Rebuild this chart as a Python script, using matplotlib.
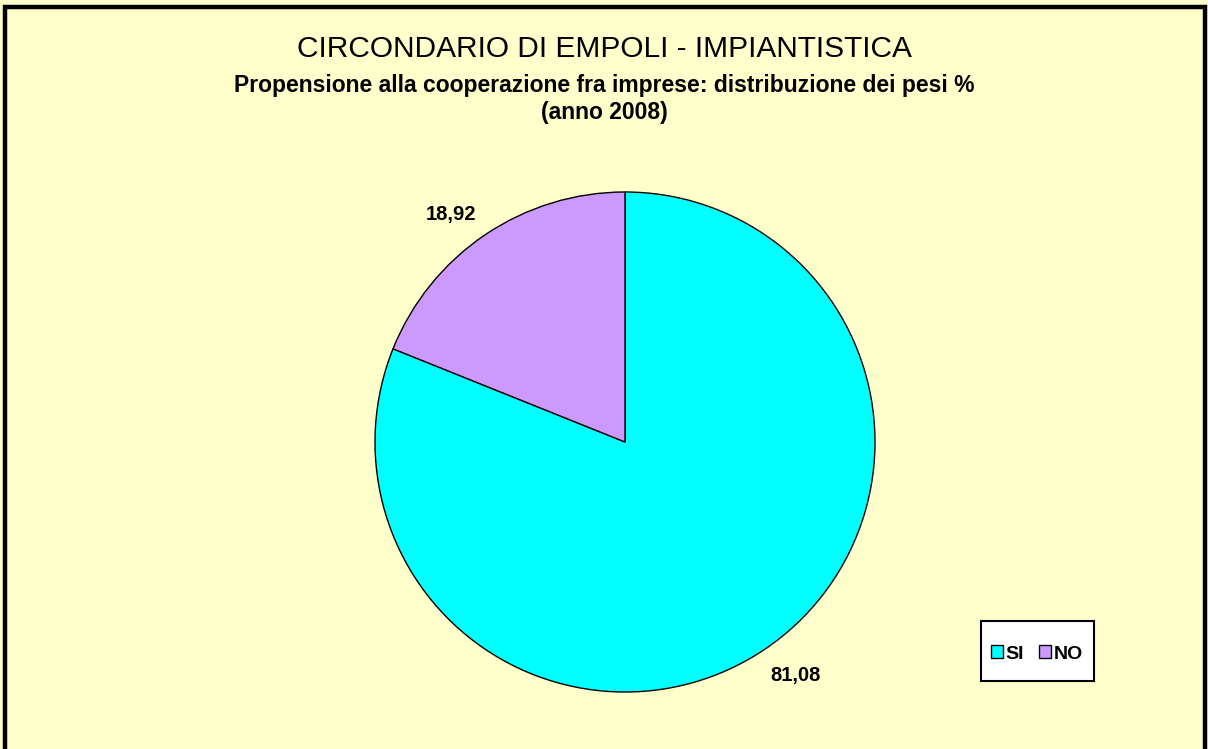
import numpy as np
import matplotlib
matplotlib.use("Agg")
import matplotlib.pyplot as plt
from matplotlib.patches import Rectangle

categories = ["SI", "NO"]
values = [81.08, 18.92]
value_labels = ["81,08", "18,92"]
colors = ["#00FFFF", "#CC99FF"]

title = "CIRCONDARIO DI EMPOLI - IMPIANTISTICA"
subtitle = "Propensione alla cooperazione fra imprese: distribuzione dei pesi %"
subtitle2 = "(anno 2008)"

FONT = "Liberation Sans"

W, H = 1208, 749
fig = plt.figure(figsize=(W / 100, H / 100), dpi=100)
fig.patch.set_facecolor("#FFFFCC")

# border
fig.add_artist(Rectangle((5 / W, -0.05), (W - 8) / W, 1.05 - 7 / H,
                         transform=fig.transFigure, fill=False,
                         edgecolor="black", linewidth=3.2))

cx, cy, r = 625, 442, 250
ax = fig.add_axes([(cx - r) / W, (H - cy - r) / H, 2 * r / W, 2 * r / H])
ax.set_facecolor("none")
wedges, _ = ax.pie(values, colors=colors, startangle=90, counterclock=False,
                   wedgeprops=dict(edgecolor="black", linewidth=1.0))
ax.set_xlim(-1, 1)
ax.set_ylim(-1, 1)
ax.set_aspect("auto")
ax.axis("off")

# value labels outside
dist = [1.156, 1.147]
ang_off = [2.2, 3.3]
for w, lab, d, o in zip(wedges, value_labels, dist, ang_off):
    mid = np.deg2rad((w.theta1 + w.theta2) / 2 + o)
    ax.text(d * np.cos(mid), d * np.sin(mid), lab, ha="center", va="center",
            fontsize=14.5, fontweight="bold", family=FONT)

fig.text(0.5, 1 - 57 / H, title, ha="center", va="baseline", fontsize=21.5,
         family=FONT)
fig.text(0.5, 1 - 92 / H, subtitle, ha="center", va="baseline", fontsize=16.5,
         fontweight="bold", family=FONT)
fig.text(0.5, 1 - 119 / H, subtitle2, ha="center", va="baseline", fontsize=16.5,
         fontweight="bold", family=FONT)

# legend box
fig.add_artist(Rectangle((981 / W, 1 - 681 / H), 113 / W, 60 / H,
                         transform=fig.transFigure, facecolor="white",
                         edgecolor="black", linewidth=1.5, zorder=5))
leg = fig.legend(wedges, categories, loc="center",
                 bbox_to_anchor=(1037 / W, 1 - 654 / H), ncol=2,
                 frameon=False,
                 prop=dict(family=FONT, weight="bold", size=14),
                 handlelength=0.62, handleheight=0.62, handletextpad=0.12,
                 columnspacing=0.8, borderpad=0.2)
leg.set_zorder(6)

fig.savefig("out.png", dpi=100, facecolor=fig.get_facecolor())
